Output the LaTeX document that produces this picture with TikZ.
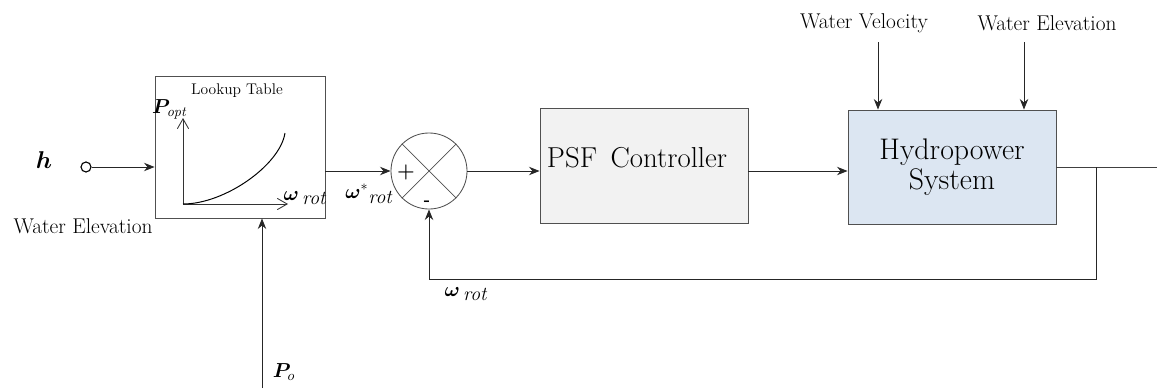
\documentclass[tikz,border=0pt]{standalone}
\usepackage{amsmath,bm}
\usepackage{tikz}
\usetikzlibrary{arrows.meta,positioning,calc}
\definecolor{ctrlGray}{HTML}{F2F2F2}
\definecolor{plantBlue}{HTML}{DCE6F2}
\definecolor{edgeGray}{HTML}{505050}
\tikzset{
  >={Stealth[length=7.5pt,width=6pt]},
  block/.style={rectangle,draw=edgeGray,line width=0.6pt,inner sep=0pt,align=center},
  sumnode/.style={circle,draw=edgeGray,line width=0.6pt,minimum size=1.9cm,inner sep=0pt},
  flow/.style={->,draw=black!85,line width=0.7pt},
  wire/.style={draw=black!75,line width=0.7pt},
  axis/.style={-{Straight Barb[length=7pt,width=8pt]},draw=black!80,line width=0.6pt},
  toplabel/.style={font=\fontsize{15.2}{18}\selectfont},
  mathlabel/.style={font=\fontsize{14}{16}\selectfont},
}

\begin{document}
\begin{tikzpicture}[x=0.025cm,y=-0.025cm]
  \useasboundingbox (0,0) rectangle (1157,388);
  % blocks
  \node[block, minimum width=4.25cm, minimum height=3.55cm] (lut) at (240,147) {};
  \node[block, fill=ctrlGray, minimum width=5.2cm, minimum height=2.875cm] (psf) at (644,165.5) {};
  \node[font=\fontsize{20.5}{24}\selectfont] (psftxt) at (637,158) {PSF\, Controller};
  \node[block, fill=plantBlue, minimum width=5.2cm, minimum height=2.85cm,
        font=\fontsize{21.2}{25}\selectfont] (hps) at (952,167) {Hydropower\\[-4pt]System};
  \node[sumnode] (sum) at (429,171) {};
  \draw[wire, draw=edgeGray, line width=0.5pt] (sum.north west) -- (sum.south east);
  \draw[wire, draw=edgeGray, line width=0.5pt] (sum.north east) -- (sum.south west);
  \node[font=\Large] (plus) at (406,172) {$\boldsymbol{+}$};
  \node[font=\large\bfseries] (minus) at (427,203) {-};
  % lookup table contents
  \node[font=\fontsize{11}{13}\selectfont] (luttitle) at (237,91) {Lookup Table};
  \coordinate (orig) at (183,204);
  \coordinate (ytop) at (183,118);
  \coordinate (xend) at (288,204);
  \draw[axis] (orig) -- (ytop);
  \draw[axis] (orig) -- (xend);
  \draw[line width=0.7pt] (orig) .. controls (225,204) and (280,165) .. (285,133);
  \node[mathlabel] (popt) at (170,109) {$\bm{P}_{\mathit{opt}}$};
  \node[mathlabel] (wlut) at (305,198) {$\bm{\omega}$\raisebox{-0.45ex}{\,\textit{rot}}};
  % inputs
  \node[font=\fontsize{16}{18}\selectfont] (hlab) at (44,160) {$\bm{h}$};
  \node[circle, draw=black, line width=0.8pt, minimum size=0.25cm, inner sep=0pt] (hin) at (86,167) {};
  \node[toplabel] (welev) at (83,226) {Water Elevation};
  \coordinate (p0) at (262,388);
  \node[mathlabel] (p0lab) at (284,372) {$\bm{P}_{o}$};
  \node[toplabel] (wvel) at (864,23) {Water Velocity};
  \node[toplabel] (welev2) at (1047,23) {Water Elevation};
  \coordinate (wvin) at (878,42);
  \coordinate (wein) at (1024,42);
  % signals
  \draw[flow] (hin) -- (lut.west |- hin);
  \draw[flow] (p0) -- (lut.south -| p0);
  \draw[flow] (lut.east |- sum) -- (sum.west);
  \node[mathlabel] (wref) at (369,194) {$\bm{\omega}^{*}$\raisebox{-0.6ex}{\textit{rot}}};
  \draw[flow] (sum.east) -- (psf.west |- sum);
  \draw[flow] (psf.east |- sum) -- (hps.west |- sum);
  \draw[flow] (wvin) -- (hps.north -| wvin);
  \draw[flow] (wein) -- (hps.north -| wein);
  % output and feedback
  \coordinate (out) at (1157,167);
  \coordinate (br) at (1096,167);
  \coordinate (fbc) at (1096,279);
  \draw[wire] (hps.east) -- (out);
  \draw[flow] (br) -- (fbc) -| (sum.south);
  \node[mathlabel] (wfb) at (466,294) {$\bm{\omega}$\raisebox{-0.45ex}{\,\textit{rot}}};
\end{tikzpicture}
\end{document}
